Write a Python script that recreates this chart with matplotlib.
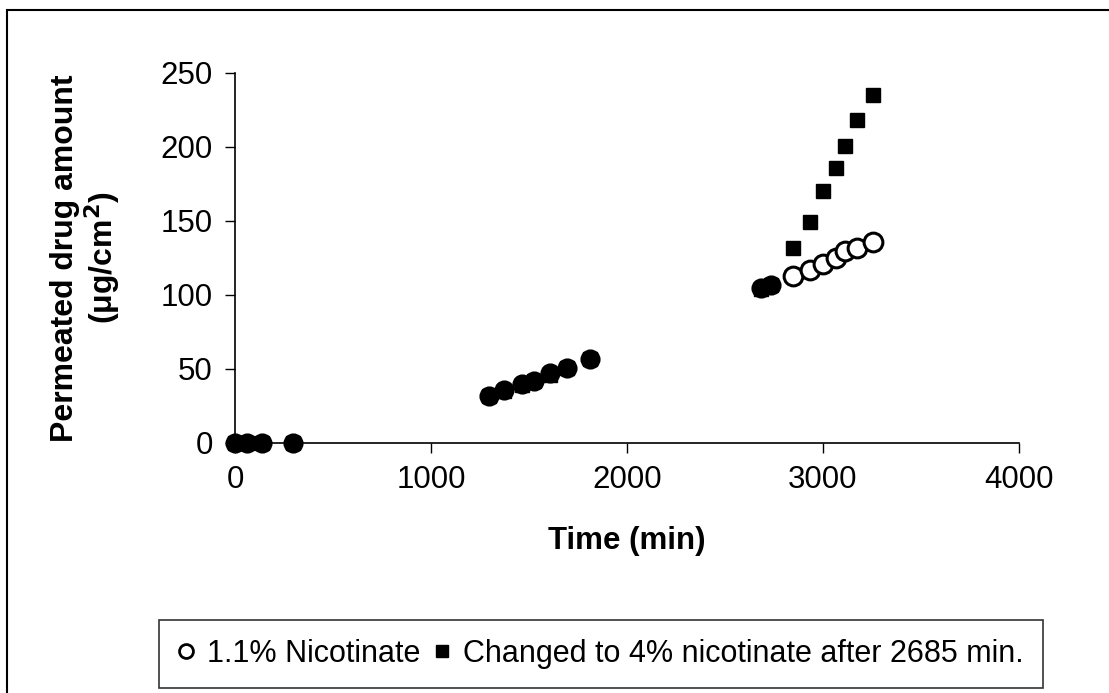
import matplotlib
matplotlib.use("Agg")
import matplotlib.pyplot as plt
from matplotlib.lines import Line2D
from matplotlib.patches import Rectangle

plt.rcParams['font.family'] = ['Liberation Sans', 'DejaVu Sans']

# Data (time in min, permeated amount in ug/cm2)
time_min = [0, 60, 140, 295, 1295, 1370, 1465, 1525, 1605, 1695, 1810,
            2685, 2735, 2845, 2935, 3000, 3065, 3110, 3175, 3255]
nicotinate_11 = [0, 0, 0, 0, 32, 36, 40, 42, 47, 51, 57,
                 105, 107, 113, 117, 121, 125, 130, 132, 136]
changed_4 = [0, 0, 0, 0, 32, 35, 39, 42, 46, 51, 57,
             104, 107, 132, 149, 170, 186, 201, 218, 235]
switch_time = 2735

x_ticks = [0, 1000, 2000, 3000, 4000]
y_ticks = [0, 50, 100, 150, 200, 250]
legend_labels = ["1.1% Nicotinate", "Changed to 4% nicotinate after 2685 min."]

W, H = 1109, 693
fig = plt.figure(figsize=(W / 100, H / 100), dpi=100)

# outer frame (right and bottom edges fall outside the picture)
fig.add_artist(Rectangle((7 / W, -0.1), 1.2, 0.1 + (H - 10) / H,
                         transform=fig.transFigure, fill=False,
                         edgecolor='black', linewidth=1.5, clip_on=False))

ax = fig.add_axes([235 / W, (H - 443) / H, (1019 - 235) / W, (443 - 73) / H])

ax.plot(time_min, changed_4, linestyle='none', marker='s', markersize=10,
        markerfacecolor='black', markeredgecolor='black', clip_on=False, zorder=3)

early_t = [t for t in time_min if t <= switch_time]
early_v = nicotinate_11[:len(early_t)]
late_t = time_min[len(early_t):]
late_v = nicotinate_11[len(early_t):]
ax.plot(early_t, early_v, linestyle='none', marker='o', markersize=13,
        markerfacecolor='black', markeredgecolor='black', markeredgewidth=1.5,
        clip_on=False, zorder=4)
ax.plot(late_t, late_v, linestyle='none', marker='o', markersize=13.5,
        markerfacecolor='white', markeredgecolor='black', markeredgewidth=2.2,
        clip_on=False, zorder=4)

ax.set_xlim(0, 4000)
ax.set_ylim(0, 250)
ax.set_xticks(x_ticks)
ax.set_yticks(y_ticks)
ax.tick_params(direction='out', length=7, width=1, labelsize=22.5, pad=9)
for s in ['top', 'right']:
    ax.spines[s].set_visible(False)
for s in ['left', 'bottom']:
    ax.spines[s].set_linewidth(1.2)

ax.set_xlabel("Time (min)", fontsize=22.5, fontweight='bold', labelpad=22)
ax.set_ylabel("Permeated drug amount\n(\u03bcg/cm$^\\mathbf{2}$)", fontsize=23,
              fontweight='bold', labelpad=28, linespacing=1.05)

handles = [
    Line2D([], [], linestyle='none', marker='o', markersize=10,
           markerfacecolor='white', markeredgecolor='black', markeredgewidth=2),
    Line2D([], [], linestyle='none', marker='s', markersize=8,
           markerfacecolor='black', markeredgecolor='black'),
]
leg = fig.legend(handles, legend_labels, loc='lower right',
                 bbox_to_anchor=(1043 / W, 5 / H), ncol=2, fontsize=22,
                 frameon=True, fancybox=False, edgecolor='black',
                 handlelength=0.5, handletextpad=0.45, columnspacing=0.45,
                 borderpad=0.62, borderaxespad=0)
leg.get_frame().set_linewidth(1.2)

fig.savefig("out.png", dpi=100)
